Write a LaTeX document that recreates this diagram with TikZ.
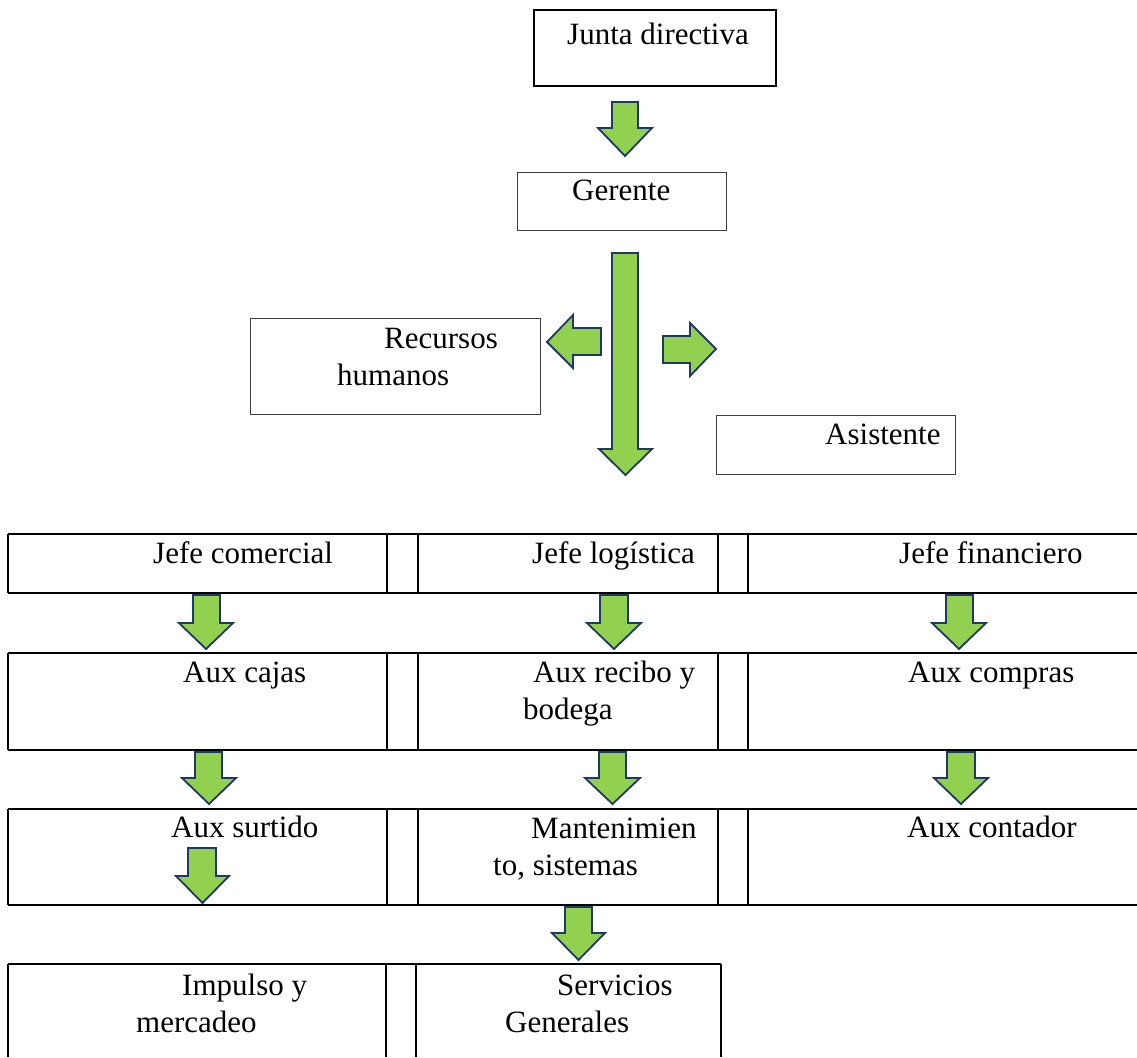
\documentclass[tikz,border=0pt]{standalone}
\usepackage{fontspec}
\setmainfont{Liberation Serif}
\definecolor{arrowfill}{HTML}{92D050}
\definecolor{arrowedge}{HTML}{1F3864}
\definecolor{thinedge}{HTML}{404040}

% block arrow pointing down: shaft left/right, head left/right, top, shoulder, tip
\newcommand\dnblock[7]{%
  \draw[blockarrow] (#1,#5) -- (#2,#5) -- (#2,#6) -- (#4,#6) -- ({(#3+#4)/2},#7)
    -- (#3,#6) -- (#1,#6) -- cycle;}

\begin{document}
\begin{tikzpicture}[x=1pt,y=-1pt,
  blockarrow/.style={fill=arrowfill,draw=arrowedge,line width=1.8pt,line join=miter},
  thickbox/.style={draw=black,line width=2.4pt,anchor=north west,inner sep=0pt},
  thinbox/.style={draw=thinedge,line width=1.2pt,anchor=north west,inner sep=0pt},
  label/.style={anchor=base west,inner sep=0pt,font=\fontsize{31}{36}\selectfont},
  grid/.style={draw=black,line width=2.2pt}]
\useasboundingbox (0,0) rectangle (1137,1057);

% upper boxes
\node[thickbox,minimum width=242pt,minimum height=76pt] (junta) at (533,9) {};
\node[thinbox,minimum width=209pt,minimum height=58pt] (gerente) at (517,172) {};
\node[thinbox,minimum width=290pt,minimum height=96pt] (rrhh) at (250,318) {};
\node[thinbox,minimum width=239pt,minimum height=59pt] (asistente) at (716,415) {};

\node[label] (tjunta) at (567,45) {Junta directiva};
\node[label] (tgerente) at (572,200) {Gerente};
\node[label] (trrhh1) at (384,348) {Recursos};
\node[label] (trrhh2) at (337,385) {humanos};
\node[label] (tasist) at (825,444) {Asistente};

% upper block arrows
\dnblock{612}{638}{598}{652}{102}{128}{156}
\dnblock{612}{638}{599}{652}{253}{449}{475}
\draw[blockarrow] (601,328) -- (601,355) -- (573,355) -- (573,368) -- (547,342)
  -- (573,315) -- (573,328) -- cycle;
\draw[blockarrow] (663,336) -- (690,336) -- (690,323) -- (716,349) -- (690,376)
  -- (690,363) -- (663,363) -- cycle;

% table rows
\foreach \t/\b in {534/593,653/750,809/905}{
  \draw[grid] (8,\t) -- (1137,\t);
  \draw[grid] (8,\b) -- (1137,\b);
  \foreach \x in {8,387,418,718,748}{\draw[grid] (\x,\t) -- (\x,\b);}
}
\draw[grid] (8,964) -- (721,964);
\foreach \x in {8,386,416,721}{\draw[grid] (\x,964) -- (\x,1057);}

% cell labels
\node[label] (c11) at (153,563) {Jefe comercial};
\node[label] (c12) at (532,563) {Jefe logística};
\node[label] (c13) at (899,563) {Jefe financiero};
\node[label] (c21) at (183,682) {Aux cajas};
\node[label] (c22a) at (533,682) {Aux recibo y};
\node[label] (c22b) at (523,719) {bodega};
\node[label] (c23) at (908,682) {Aux compras};
\node[label] (c31) at (171,837) {Aux surtido};
\node[label] (c32a) at (531,838) {Mantenimien};
\node[label] (c32b) at (493,875) {to, sistemas};
\node[label] (c33) at (907,837) {Aux contador};
\node[label] (c41a) at (182,995) {Impulso y};
\node[label] (c41b) at (136,1032) {mercadeo};
\node[label] (c42a) at (557,995) {Servicios};
\node[label] (c42b) at (505,1032) {Generales};

% block arrows between rows
\dnblock{193}{220}{179}{233}{595}{623}{649}
\dnblock{600}{628}{587}{641}{595}{623}{649}
\dnblock{946}{973}{932}{986}{595}{623}{649}
\dnblock{195}{222}{182}{236}{752}{778}{804}
\dnblock{599}{626}{585}{640}{752}{778}{804}
\dnblock{947}{975}{934}{988}{752}{778}{804}
\dnblock{188}{216}{176}{229}{848}{876}{903}
\dnblock{565}{592}{552}{605}{907}{933}{960}
\end{tikzpicture}
\end{document}
